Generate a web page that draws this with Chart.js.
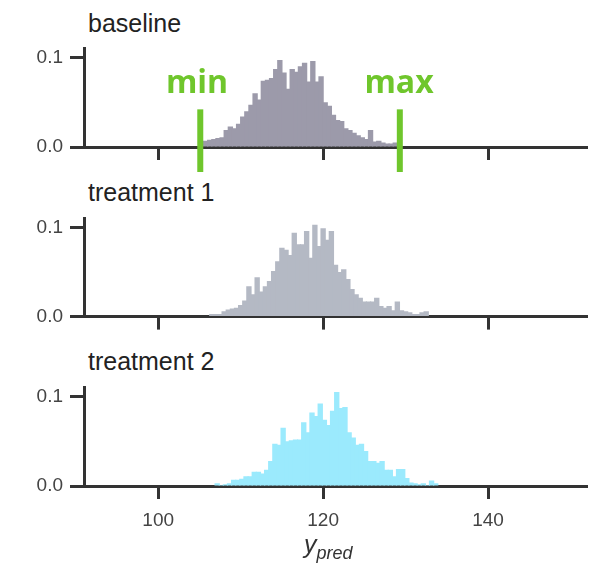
<!DOCTYPE html>
<html>
<head>
<meta charset="utf-8">
<script src="https://cdn.jsdelivr.net/npm/chart.js@4.4.1/dist/chart.umd.min.js"></script>
<style>
  body { margin: 0; background: #fff; }
  #wrap { position: relative; width: 597px; height: 568px; overflow: hidden; font-family: "Liberation Sans", Arial, sans-serif; }
  canvas { position: absolute; left: 0; }
  .ttl { position: absolute; left: 88px; font-size: 25px; color: #222; line-height: 1; }
  .mark { position: absolute; font-family: "Open Sans", sans-serif; font-weight: 700; font-size: 32px; color: #6fc62c; line-height: 1; transform: translateX(-50%); }
  #xlab { position: absolute; left: 304px; top: 532px; font-style: italic; font-size: 25px; color: #333; line-height: 1; }
  #xlab sub { font-size: 18px; vertical-align: -6px; }
</style>
</head>
<body>
<div id="wrap">
  <div class="ttl" style="top:11px">baseline</div>
  <div class="ttl" style="top:180px">treatment 1</div>
  <div class="ttl" style="top:349px">treatment 2</div>
  <canvas id="c1" width="597" height="150" style="top:30px"></canvas>
  <canvas id="c2" width="597" height="135" style="top:200px"></canvas>
  <canvas id="c3" width="597" height="170" style="top:369px"></canvas>
  <div class="mark" style="left:197px;top:65px">min</div>
  <div class="mark" style="left:399px;top:65px">max</div>
  <div id="xlab">y<sub>pred</sub></div>
</div>
<script>
// x axis / y axis ticks
const xTicks = [100, 120, 140];
const yTicks = [0, 0.1];
const binWidth = 0.5;

// baseline histogram (bin heights, first bin starts at 105.5)
const baselineStart = 105.5;
const baselineValues = [0.007, 0.008, 0.009, 0.010, 0.011, 0.019, 0.023, 0.021, 0.026, 0.034,
  0.040, 0.047, 0.060, 0.053, 0.074, 0.075, 0.077, 0.087, 0.097, 0.083,
  0.065, 0.087, 0.084, 0.090, 0.094, 0.073, 0.096, 0.073, 0.079, 0.050,
  0.046, 0.036, 0.030, 0.029, 0.021, 0.019, 0.016, 0.013, 0.011, 0.009,
  0.019, 0.006, 0.007, 0.005, 0.004, 0.004, 0.005];

// treatment 1
const treat1Start = 106.25;
const treat1Values = [0.003, 0.003, 0.003, 0.006, 0.008, 0.009, 0.010, 0.013, 0.018, 0.034,
  0.025, 0.044, 0.028, 0.034, 0.040, 0.051, 0.062, 0.077, 0.075, 0.069,
  0.094, 0.081, 0.081, 0.096, 0.066, 0.103, 0.079, 0.099, 0.086, 0.096,
  0.058, 0.050, 0.053, 0.042, 0.031, 0.025, 0.021, 0.017, 0.017, 0.017,
  0.021, 0.012, 0.010, 0.012, 0.007, 0.017, 0.007, 0.006, 0.005, 0.003,
  0.003, 0.005, 0.006];

// treatment 2
const treat2Start = 106.9;
const treat2Values = [0.003, 0.001, 0.002, 0.003, 0.007, 0.007, 0.008, 0.011, 0.011, 0.016,
  0.016, 0.014, 0.018, 0.028, 0.047, 0.046, 0.065, 0.050, 0.051, 0.052,
  0.052, 0.071, 0.060, 0.082, 0.078, 0.092, 0.074, 0.068, 0.084, 0.105,
  0.087, 0.088, 0.060, 0.054, 0.046, 0.047, 0.039, 0.028, 0.028, 0.026,
  0.028, 0.018, 0.018, 0.011, 0.019, 0.019, 0.009, 0.004, 0.003, 0.002,
  0.003, 0.001, 0.006, 0.003];

// min / max markers on the baseline panel
const markerValues = [105.1, 129.3];
const markerTop = 0.042;

function toPoints(start, values) {
  return values.map((v, i) => ({ x: start + binWidth * (i + 0.5), y: v }));
}

const axisColor = "#333";

const markerPlugin = {
  id: "markers",
  afterDraw(chart) {
    const ctx = chart.ctx;
    const xs = chart.scales.x;
    const ys = chart.scales.y;
    ctx.save();
    ctx.strokeStyle = "#6fc62c";
    ctx.lineWidth = 6;
    markerValues.forEach(v => {
      const px = xs.getPixelForValue(v);
      ctx.beginPath();
      ctx.moveTo(px, ys.getPixelForValue(markerTop));
      ctx.lineTo(px, ys.getPixelForValue(0) + 25);
      ctx.stroke();
    });
    ctx.restore();
  }
};

function makePanel(id, points, color, showLabels, padBottom, plugins) {
  const ctx = document.getElementById(id).getContext("2d");
  return new Chart(ctx, {
    type: "bar",
    data: {
      datasets: [{
        data: points,
        backgroundColor: color,
        borderWidth: 0,
        barPercentage: 1.3,
        categoryPercentage: 1
      }]
    },
    options: {
      responsive: false,
      animation: false,
      layout: { padding: { top: 7, right: 10, bottom: padBottom, left: 0 } },
      plugins: { legend: { display: false }, tooltip: { enabled: false } },
      scales: {
        x: {
          type: "linear",
          min: 91,
          max: 152,
          offset: false,
          afterBuildTicks: s => { s.ticks = xTicks.map(v => ({ value: v })); },
          afterFit: s => { s.height = showLabels ? 48 : 16; },
          border: { color: axisColor, width: 3 },
          grid: { offset: false, drawOnChartArea: false, drawTicks: true, tickLength: 13, tickWidth: 3, tickColor: axisColor },
          ticks: {
            display: showLabels,
            padding: 10,
            color: "#444",
            font: { family: "Liberation Sans", size: 19 }
          }
        },
        y: {
          min: 0,
          max: 0.11,
          afterBuildTicks: s => { s.ticks = yTicks.map(v => ({ value: v })); },
          afterFit: s => { s.width = 84; },
          border: { color: axisColor, width: 3 },
          grid: { drawOnChartArea: false, drawTicks: true, tickLength: 14, tickWidth: 3, tickColor: axisColor },
          ticks: {
            padding: 7,
            color: "#444",
            font: { family: "Liberation Sans", size: 19 },
            callback: v => v.toFixed(1)
          }
        }
      }
    },
    plugins: plugins
  });
}

makePanel("c1", toPoints(baselineStart, baselineValues), "#9c9aaa", false, 17, [markerPlugin]);
makePanel("c2", toPoints(treat1Start, treat1Values), "#b4b9c4", false, 2, []);
makePanel("c3", toPoints(treat2Start, treat2Values), "#9beafd", true, 5, []);
</script>
</body>
</html>
